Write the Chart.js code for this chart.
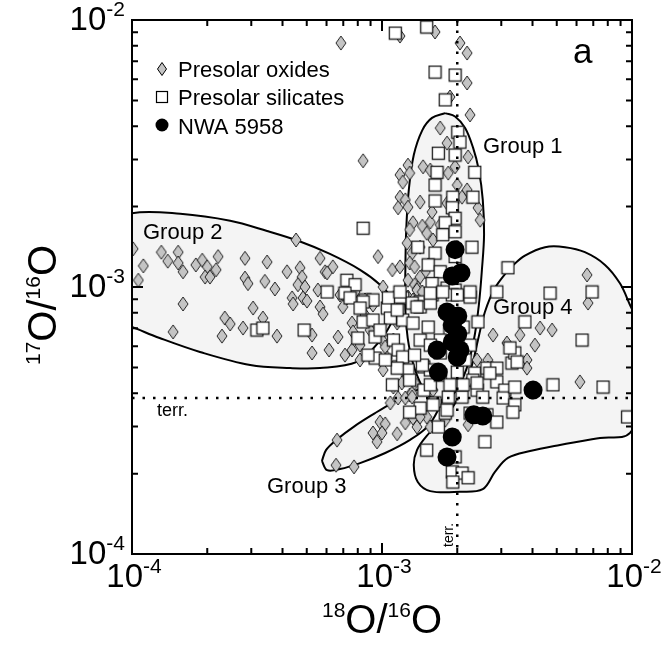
<!DOCTYPE html>
<html>
<head>
<meta charset="utf-8">
<script src="https://cdn.jsdelivr.net/npm/chart.js@4"></script>
<style>
  html, body { margin: 0; padding: 0; background: #fff; }
  canvas { display: block; }
</style>
</head>
<body>
<canvas id="oxygenChart" width="665" height="646"></canvas>
<script>
// 18O/16O (x) vs 17O/16O (y) ratios
const oxides = [
  [6.85e-4,8.2e-3],[1.18e-3,8.71e-3],[1.63e-3,9.02e-3],[2.05e-3,8.2e-3],[2.19e-3,7.52e-3],[2.19e-3,5.81e-3],[1.87e-3,5.15e-3],[2.25e-3,4.41e-3],
  [8.4e-4,2.97e-3],[1.71e-3,3.94e-3],[1.82e-3,3.46e-3],[2.21e-3,3.07e-3],[1.46e-3,2.82e-3],[1.27e-3,2.86e-3],[1.18e-3,2.63e-3],[1.29e-3,2.67e-3],
  [1.21e-3,2.47e-3],[1.56e-3,2.74e-3],[1.84e-3,2.67e-3],[1.96e-3,2.82e-3],[2.0e-3,2.41e-3],[2.09e-3,2.17e-3],[2.19e-3,2.31e-3],[2.42e-3,1.98e-3],
  [2.47e-3,1.78e-3],[1.18e-3,2.17e-3],[1.24e-3,2.12e-3],[1.16e-3,1.98e-3],[1.27e-3,1.99e-3],[1.42e-3,2.08e-3],[1.82e-3,2.06e-3],[1.91e-3,1.89e-3],
  [1.33e-3,1.74e-3],[1.45e-3,1.69e-3],[1.56e-3,1.75e-3],[1.51e-3,1.59e-3],[1.29e-3,1.64e-3],[1.26e-3,1.46e-3],[1.32e-3,1.34e-3],[1.29e-3,1.23e-3],
  [1.35e-3,1.19e-3],[1.27e-3,1.06e-3],[1.35e-3,1.02e-3],[1.42e-3,1.41e-3],[1.60e-3,1.50e-3],[1.75e-3,1.59e-3],[1.53e-3,1.21e-3],[1.49e-3,1.14e-3],
  [1.42e-3,1.09e-3],[1.39e-3,9.9e-4],[1.585e-3,1.91e-3],[1.71e-3,1.71e-3],[9.64e-4,1.30e-3],[1.10e-3,1.16e-3],[1.18e-3,1.19e-3],[1.01e-3,1.0e-3],
  [4.53e-4,1.50e-3],
  [1.01e-4,1.39e-3],[1.11e-4,1.20e-3],[1.06e-4,1.06e-3],[1.31e-4,1.35e-3],[1.39e-4,1.25e-3],[1.53e-4,1.35e-3],[1.53e-4,1.23e-3],[1.60e-4,1.14e-3],
  [1.80e-4,1.21e-3],[1.91e-4,1.26e-3],[2.0e-4,1.19e-3],[1.96e-4,1.09e-3],[2.05e-4,1.09e-3],[2.17e-4,1.16e-3],[2.21e-4,1.30e-3],[2.83e-4,1.28e-3],
  [2.83e-4,1.08e-3],[2.91e-4,1.03e-3],[3.40e-4,1.05e-3],[3.47e-4,1.24e-3],[3.73e-4,9.83e-4],[4.17e-4,1.14e-3],[4.70e-4,1.18e-3],[4.79e-4,1.09e-3],
  [4.61e-4,1.02e-3],[4.92e-4,1.0e-3],[4.37e-4,9.1e-4],[4.41e-4,8.64e-4],[4.83e-4,9.1e-4],[5.01e-4,8.86e-4],[5.65e-4,1.28e-3],[5.92e-4,1.14e-3],
  [5.54e-4,9.74e-4],[5.65e-4,8.42e-4],[5.81e-4,7.92e-4],[1.60e-4,8.64e-4],[2.35e-4,7.65e-4],[2.47e-4,7.27e-4],[2.78e-4,7.02e-4],[3.05e-4,8.34e-4],
  [3.34e-4,7.65e-4],[3.80e-4,6.55e-4],[2.29e-4,6.55e-4],[1.46e-4,6.79e-4],[5.25e-4,6.61e-4],[6.67e-4,6.50e-4],[5.25e-4,5.66e-4],[6.14e-4,5.81e-4],
  [7.11e-4,5.56e-4],[7.59e-4,5.81e-4],[8.17e-4,5.33e-4],[6.79e-4,9.34e-4],[7.24e-4,9.1e-4],[7.8e-4,9.58e-4],[7.59e-4,7.33e-4],[7.66e-4,6.79e-4],
  [6.36e-4,1.19e-3],[6.03e-4,1.13e-3],[6.97e-4,8.42e-4],[8.55e-4,8.94e-4],[9.2e-4,8.56e-4],
  [1.0e-3,6.33e-4],[1.03e-3,5.96e-4],[1.05e-3,5.42e-4],[1.01e-3,4.89e-4],[1.11e-3,4.22e-4],[1.08e-3,3.68e-4],[1.13e-3,8.2e-4],[1.10e-3,8.71e-4],
  [1.15e-3,7.33e-4],[1.11e-3,6.33e-4],[1.27e-3,9.17e-4],[1.33e-3,8.94e-4],[1.20e-3,4.37e-4],[1.29e-3,3.94e-4],[1.16e-3,3.84e-4],[1.24e-3,3.84e-4],
  [1.32e-3,4.0e-4],[1.35e-3,4.37e-4],[1.38e-3,9.74e-4],[1.45e-3,9.58e-4],
  [8.55e-4,7.86e-4],[8.96e-4,6.90e-4],[8.17e-4,6.06e-4],[1.60e-3,4.11e-4],[1.79e-3,3.17e-4],
  [6.61e-4,2.67e-4],[6.55e-4,2.15e-4],[7.73e-4,2.12e-4],[9.2e-4,2.84e-4],[9.82e-4,3.12e-4],[1.03e-3,3.07e-4],[1.0e-3,2.84e-4],[9.55e-4,2.63e-4],
  [1.15e-3,2.82e-4],[1.24e-3,3.10e-4],[1.33e-3,3.23e-4],[1.38e-3,2.99e-4],[1.32e-3,3.87e-4],[1.51e-3,3.26e-4],[1.56e-3,2.99e-4],[2.21e-3,3.05e-4],
  [1.42e-3,3.26e-4],
  [6.61e-3,1.11e-3],[6.67e-3,8.71e-4],[6.19e-3,4.41e-4],[4.29e-3,7.02e-4],[4.79e-3,6.90e-4],[4.09e-3,6.06e-4],[3.56e-3,6.61e-4],[2.78e-3,6.61e-4],
  [3.16e-3,6.17e-4],[3.80e-3,5.33e-4],[3.80e-3,4.97e-4],[2.65e-3,5.33e-4],[2.65e-3,4.97e-4],[2.40e-3,5.33e-4]
];

const silicates = [
  [1.13e-3,8.93e-3],[1.51e-3,9.41e-3],[1.63e-3,6.38e-3],[1.96e-3,6.22e-3],[1.79e-3,5.02e-3],[2.01e-3,3.80e-3],[2.05e-3,3.49e-3],[1.68e-3,3.17e-3],
  [1.96e-3,3.12e-3],[2.35e-3,2.69e-3],[1.66e-3,2.69e-3],[1.63e-3,2.41e-3],[2.31e-3,2.17e-3],[1.92e-3,2.17e-3],[1.63e-3,2.10e-3],[1.91e-3,1.98e-3],
  [1.96e-3,1.81e-3],[1.79e-3,1.74e-3],[1.75e-3,1.57e-3],[1.96e-3,1.61e-3],[8.4e-4,1.66e-3],[1.39e-3,1.41e-3],[2.29e-3,1.41e-3],[1.63e-3,1.34e-3],
  [1.96e-3,1.30e-3],[3.19e-3,1.18e-3],[1.53e-3,1.21e-3],[1.71e-3,1.14e-3],[1.585e-3,1.03e-3],[1.82e-3,9.91e-4],[1.96e-3,9.74e-4],[1.91e-3,9.34e-4],
  [7.24e-4,1.06e-3],[7.8e-4,1.02e-3],[7.11e-4,9.49e-4],[7.45e-4,9.1e-4],[8.55e-4,8.94e-4],[9.2e-4,8.94e-4],[1.10e-3,8.71e-4],[1.21e-3,9.1e-4],
  [1.42e-3,8.79e-4],[1.585e-3,9.34e-4],[6.03e-4,9.58e-4],[4.88e-4,6.90e-4],[3.16e-4,6.90e-4],[3.34e-4,7.02e-4],[8.4e-4,8.79e-4],[8.17e-4,8.34e-4],
  [8.4e-4,7.40e-4],[8.0e-4,6.44e-4],[9.2e-4,7.52e-4],[9.38e-4,6.50e-4],[9.38e-4,5.42e-4],[1.05e-3,8.34e-4],[1.11e-3,6.33e-4],[1.18e-3,9.17e-4],
  [1.21e-3,7.52e-4],[1.16e-3,5.02e-4],[1.32e-3,8.71e-4],[1.42e-3,8.42e-4],[1.33e-3,7.33e-4],[1.42e-3,6.33e-4],[1.47e-3,5.02e-4],[1.56e-3,4.89e-4],
  [1.51e-3,2.45e-4],[1.06e-3,9.1e-4],[1.08e-3,7.65e-4],[1.16e-3,5.81e-4],[1.38e-3,8.42e-4],[1.56e-3,8.71e-4],[2.0e-3,9.34e-4],[2.25e-3,9.17e-4],
  [1.53e-3,7.08e-4],[1.21e-3,5.47e-4],[1.45e-3,5.10e-4],[1.27e-3,4.89e-4],[1.15e-3,4.97e-4],[2.0e-3,4.80e-4],[2.35e-3,4.76e-4],[2.63e-3,4.97e-4],
  [2.88e-3,4.97e-4],[3.31e-3,5.19e-4],[3.40e-3,5.66e-4],[3.25e-3,5.91e-4],[3.73e-3,7.40e-4],[2.31e-3,4.48e-4],[2.40e-3,4.11e-4],[2.09e-3,3.87e-4],
  [1.84e-3,3.87e-4],[1.63e-3,3.68e-4],[1.47e-3,4.11e-4],[1.29e-3,4.48e-4],[2.88e-3,4.41e-4],[3.10e-3,4.11e-4],[3.05e-3,3.84e-4],[3.40e-3,4.22e-4],
  [3.40e-3,3.62e-4],[2.25e-3,3.37e-4],[2.53e-3,3.87e-4],[2.63e-3,3.32e-4],[1.79e-3,3.37e-4],[1.42e-3,3.52e-4],[1.29e-3,3.40e-4],[1.15e-3,8.2e-4],
  [1.71e-3,5.66e-4],[1.87e-3,6.90e-4],[2.11e-3,7.08e-4],[1.18e-3,9.58e-4],[1.56e-3,9.49e-4],[1.75e-3,9.58e-4],[2.25e-3,9.58e-4],[2.88e-3,9.58e-4],
  [4.70e-3,9.49e-4],[6.92e-3,9.58e-4],[6.31e-3,6.33e-4],[3.47e-3,5.24e-4],[4.83e-3,4.30e-4],[7.66e-3,4.22e-4],[9.6e-3,3.26e-4],[3.34e-3,3.40e-4],
  [2.88e-3,3.12e-4],[2.58e-3,2.63e-4],[1.68e-3,2.99e-4],[1.96e-3,2.31e-4],[1.91e-3,2.03e-4],[2.09e-3,2.01e-4],[2.21e-3,1.93e-4],[1.92e-3,1.86e-4],
  [2.40e-3,4.37e-4],[2.70e-3,4.76e-4],[1.60e-3,3.62e-4],[1.82e-3,3.46e-4],
  [9.82e-4,6.90e-4],[1.03e-3,5.33e-4],[8.79e-4,5.56e-4],[1.10e-3,4.30e-4],[1.35e-3,5.56e-4],[1.56e-3,4.30e-4],[1.71e-3,4.68e-4],[1.87e-3,4.30e-4],
  [2.15e-3,5.33e-4],[1.71e-3,6.33e-4],[2.25e-3,6.06e-4],[2.42e-3,7.40e-4],[1.56e-3,6.06e-4],[2.11e-3,4.30e-4]
];

const nwa5958 = [
  [1.96e-3,1.38e-3],[1.91e-3,1.10e-3],[2.07e-3,1.13e-3],[1.82e-3,8.06e-4],[2.01e-3,7.79e-4],[1.91e-3,7.2e-4],[2.01e-3,6.67e-4],[1.91e-3,6.22e-4],
  [1.66e-3,5.81e-4],[2.05e-3,5.81e-4],[2.0e-3,5.47e-4],[1.68e-3,4.80e-4],[4.02e-3,4.11e-4],[2.33e-3,3.32e-4],[2.53e-3,3.29e-4],[1.91e-3,2.74e-4],
  [1.82e-3,2.31e-4]
];

// outlines of the grain groups
const group1 = [
  [1.79e-3,4.48e-3],[1.96e-3,4.35e-3],[2.15e-3,3.94e-3],[2.31e-3,3.34e-3],[2.44e-3,2.74e-3],[2.53e-3,2.12e-3],[2.56e-3,1.57e-3],
  [2.51e-3,1.16e-3],[2.44e-3,8.56e-4],[2.33e-3,6.33e-4],[2.17e-3,4.89e-4],[1.96e-3,4.04e-4],[1.74e-3,3.78e-4],[1.53e-3,3.94e-4],
  [1.38e-3,4.68e-4],[1.28e-3,6.06e-4],[1.24e-3,8.2e-4],[1.24e-3,1.16e-3],[1.25e-3,1.64e-3],[1.28e-3,2.31e-3],[1.34e-3,3.12e-3],
  [1.45e-3,3.87e-3],[1.585e-3,4.3e-3]
];
const group2 = [
  [5.15e-5,1.57e-3],[1.0e-4,1.89e-3],[1.56e-4,1.88e-3],[2.47e-4,1.77e-3],[3.47e-4,1.62e-3],[4.70e-4,1.48e-3],[6.19e-4,1.33e-3],
  [8.17e-4,1.16e-3],[9.82e-4,1.02e-3],[1.10e-3,8.94e-4],[1.10e-3,7.52e-4],[9.64e-4,6.17e-4],[7.94e-4,5.24e-4],[5.65e-4,4.97e-4],
  [4.29e-4,4.97e-4],[2.97e-4,5.10e-4],[1.87e-4,5.71e-4],[1.29e-4,6.44e-4],[1.0e-4,7.08e-4],[5.15e-5,8.94e-4]
];
const group3 = [
  [5.75e-4,2.23e-4],[5.97e-4,2.45e-4],[6.55e-4,2.67e-4],[7.8e-4,3.02e-4],[9.38e-4,3.37e-4],[1.13e-3,3.74e-4],[1.35e-3,4.08e-4],
  [1.585e-3,4.26e-4],[1.75e-3,4.11e-4],[1.71e-3,3.62e-4],[1.53e-3,3.02e-4],[1.29e-3,2.67e-4],[1.03e-3,2.39e-4],[8.17e-4,2.19e-4],
  [6.79e-4,2.08e-4],[6.03e-4,2.06e-4]
];
const group4 = [
  [3.25e-3,1.18e-3],[3.73e-3,1.31e-3],[4.49e-3,1.41e-3],[5.40e-3,1.41e-3],[6.48e-3,1.35e-3],[7.8e-3,1.21e-3],[8.96e-3,1.03e-3],
  [9.82e-3,8.56e-4],[1.29e-2,4.89e-4],[9.82e-3,2.84e-4],[7.45e-3,2.72e-4],[5.15e-3,2.56e-4],[3.91e-3,2.43e-4],[3.19e-3,2.29e-4],
  [2.83e-3,2.03e-4],[2.53e-3,1.75e-4],[2.05e-3,1.71e-4],[1.56e-3,1.72e-4],[1.39e-3,1.86e-4],[1.34e-3,2.15e-4],[1.38e-3,2.45e-4],
  [1.51e-3,2.77e-4],[1.79e-3,3.26e-4],[2.05e-3,3.94e-4],[2.29e-3,5.10e-4],[2.42e-3,6.33e-4],[2.58e-3,8.06e-4],[2.83e-3,9.91e-4]
];

// terrestrial ratios (dotted lines)
const terr18 = 2.0e-3;
const terr17 = 3.84e-4;

const decadeTicks = [1e-4, 1e-3, 1e-2];
const decadeExponents = ['-4', '-3', '-2'];
const minorMultipliers = [2, 3, 4, 5, 6, 7, 8, 9];

const FONT = '"Liberation Sans", Arial, Helvetica, sans-serif';
function font(size) { return size + 'px ' + FONT; }

function diamondImage(w, h) {
  const c = document.createElement('canvas');
  c.width = w + 2; c.height = h + 2;
  const g = c.getContext('2d');
  g.beginPath();
  g.moveTo(c.width / 2, 1);
  g.lineTo(c.width - 1, c.height / 2);
  g.lineTo(c.width / 2, c.height - 1);
  g.lineTo(1, c.height / 2);
  g.closePath();
  g.fillStyle = '#c4c4c4';
  g.fill();
  g.lineWidth = 1;
  g.strokeStyle = '#222';
  g.stroke();
  return c;
}

function squareImage(s) {
  const c = document.createElement('canvas');
  c.width = s + 2; c.height = s + 2;
  const g = c.getContext('2d');
  g.fillStyle = '#fff';
  g.fillRect(1, 1, s, s);
  g.lineWidth = 1.3;
  g.strokeStyle = '#1a1a1a';
  g.strokeRect(1.5, 1.5, s - 1, s - 1);
  return c;
}

const diamondPt = diamondImage(10, 14);
const squarePt = squareImage(13);

function toXY(arr) {
  return arr.map(function(p) { return { x: p[0], y: p[1] }; });
}

function regionDataset(pts) {
  return {
    type: 'line',
    data: toXY(pts.concat([pts[0]])),
    borderColor: '#000',
    borderWidth: 2,
    backgroundColor: '#f4f4f4',
    fill: 'shape',
    pointRadius: 0,
    tension: 0.35,
    clip: 0,
    order: 10
  };
}

// text with superscript parts: [[text, isSup], ...]
function drawSup(ctx, parts, x, y, align, base, sup, raise) {
  let w = 0;
  parts.forEach(function(p) {
    ctx.font = font(p[1] ? sup : base);
    w += ctx.measureText(p[0]).width;
  });
  let cx = align === 'center' ? x - w / 2 : align === 'right' ? x - w : x;
  ctx.textAlign = 'left';
  parts.forEach(function(p) {
    ctx.font = font(p[1] ? sup : base);
    ctx.fillText(p[0], cx, p[1] ? y - raise : y);
    cx += ctx.measureText(p[0]).width;
  });
}

const frame = {
  id: 'frame',
  afterDatasetsDraw(chart) {
    const ctx = chart.ctx;
    const a = chart.chartArea;
    const xs = chart.scales.x;
    const ys = chart.scales.y;

    ctx.save();
    ctx.strokeStyle = '#000';
    ctx.fillStyle = '#000';

    // terrestrial dotted lines
    ctx.lineWidth = 2.5;
    ctx.setLineDash([2.5, 8]);
    const ty = ys.getPixelForValue(terr17);
    ctx.beginPath(); ctx.moveTo(a.left, ty); ctx.lineTo(a.right, ty); ctx.stroke();
    const tx = xs.getPixelForValue(terr18);
    ctx.beginPath(); ctx.moveTo(tx, a.top); ctx.lineTo(tx, a.bottom); ctx.stroke();
    ctx.setLineDash([]);

    // box
    ctx.lineWidth = 2;
    ctx.strokeRect(a.left, a.top, a.right - a.left, a.bottom - a.top);

    // ticks on all four sides, pointing inward
    function ticks(v, len) {
      const px = xs.getPixelForValue(v);
      const py = ys.getPixelForValue(v);
      ctx.beginPath();
      ctx.moveTo(px, a.bottom); ctx.lineTo(px, a.bottom - len);
      ctx.moveTo(px, a.top); ctx.lineTo(px, a.top + len);
      ctx.moveTo(a.left, py); ctx.lineTo(a.left + len, py);
      ctx.moveTo(a.right, py); ctx.lineTo(a.right - len, py);
      ctx.stroke();
    }
    decadeTicks.forEach(function(d, i) {
      ticks(d, 11);
      if (i < decadeTicks.length - 1) {
        minorMultipliers.forEach(function(m) { ticks(d * m, 6); });
      }
    });

    // tick labels
    ctx.textBaseline = 'alphabetic';
    decadeTicks.forEach(function(d, i) {
      const parts = [['10', false], [decadeExponents[i], true]];
      drawSup(ctx, parts, xs.getPixelForValue(d) + 2, 587, 'center', 33, 21, 14);
      drawSup(ctx, parts, 125, ys.getPixelForValue(d) + 10, 'right', 33, 21, 14);
    });

    // axis titles
    const title = [['18', true], ['O/', false], ['16', true], ['O', false]];
    drawSup(ctx, title, (a.left + a.right) / 2, 633, 'center', 40, 21, 16);
    ctx.save();
    ctx.translate(56, 305);
    ctx.rotate(-Math.PI / 2);
    drawSup(ctx, [['17', true], ['O/', false], ['16', true], ['O', false]], 0, 0, 'center', 40, 21, 16);
    ctx.restore();

    // legend
    ctx.fillStyle = '#c4c4c4';
    ctx.lineWidth = 1;
    ctx.beginPath();
    ctx.moveTo(162, 62.5); ctx.lineTo(166.5, 69); ctx.lineTo(162, 75.5); ctx.lineTo(157.5, 69); ctx.closePath();
    ctx.fill(); ctx.stroke();
    ctx.fillStyle = '#fff';
    ctx.fillRect(156.5, 91.5, 11, 11);
    ctx.lineWidth = 1.2;
    ctx.strokeRect(156.5, 91.5, 11, 11);
    ctx.fillStyle = '#000';
    ctx.beginPath(); ctx.arc(162, 125, 6.5, 0, Math.PI * 2); ctx.fill();

    ctx.font = font(22);
    ctx.textAlign = 'left';
    ctx.fillText('Presolar oxides', 178, 77);
    ctx.fillText('Presolar silicates', 178, 105);
    ctx.fillText('NWA 5958', 178, 134);

    // panel letter and group names
    ctx.font = font(35);
    ctx.fillText('a', 573, 63);
    ctx.font = font(22);
    ctx.fillText('Group 1', 483, 153);
    ctx.fillText('Group 2', 143, 239);
    ctx.fillText('Group 3', 267, 493);
    ctx.fillText('Group 4', 493, 314);

    ctx.font = font(18);
    ctx.fillText('terr.', 157, 416);
    ctx.save();
    ctx.translate(tx - 4, 547);
    ctx.rotate(-Math.PI / 2);
    ctx.font = font(14);
    ctx.fillText('terr.', 0, 0);
    ctx.restore();

    ctx.restore();
  }
};

new Chart(document.getElementById('oxygenChart'), {
  type: 'scatter',
  data: {
    datasets: [
      { label: 'NWA 5958', data: toXY(nwa5958), pointStyle: 'circle', pointRadius: 9.5,
        backgroundColor: '#000', borderColor: '#000', borderWidth: 0, clip: 0, order: 1 },
      { label: 'Presolar silicates', data: toXY(silicates), pointStyle: squarePt, pointRadius: 7, clip: 0, order: 2 },
      { label: 'Presolar oxides', data: toXY(oxides), pointStyle: diamondPt, pointRadius: 7, clip: 0, order: 3 },
      regionDataset(group1),
      regionDataset(group2),
      regionDataset(group3),
      regionDataset(group4)
    ]
  },
  options: {
    responsive: false,
    animation: false,
    events: [],
    layout: { padding: { left: 132, right: 33, top: 20, bottom: 92 } },
    scales: {
      x: { type: 'logarithmic', min: 1e-4, max: 1e-2, display: false },
      y: { type: 'logarithmic', min: 1e-4, max: 1e-2, display: false }
    },
    plugins: {
      legend: { display: false },
      tooltip: { enabled: false }
    }
  },
  plugins: [frame]
});
</script>
</body>
</html>
